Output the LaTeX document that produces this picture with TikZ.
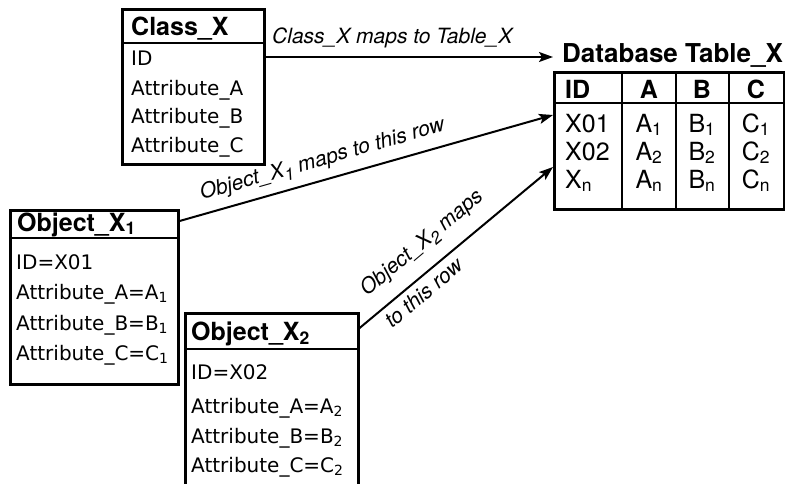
\documentclass[tikz,border=0pt]{standalone}
\usepackage{fontspec}
\setmainfont{TeX Gyre Heros}
\newfontfamily\attrfont{DejaVu Sans}
\usetikzlibrary{arrows.meta}

% lowered index in the arrow labels
\newcommand{\lowsub}[1]{\raisebox{-5pt}{\fontsize{17}{17}\selectfont #1}}

\tikzset{
  box/.style={draw, line width=2.6pt, inner sep=0pt, anchor=north west},
  divider/.style={line width=2.4pt},
  head/.style={font=\fontsize{25}{25}\selectfont\bfseries, anchor=base west, inner sep=0pt},
  attr/.style={font=\attrfont\fontsize{20}{20}\selectfont, anchor=base west, inner sep=0pt},
  cell/.style={font=\fontsize{25}{25}\selectfont, anchor=base, inner sep=0pt},
  maps/.style={-{Stealth[length=14pt,width=10pt,inset=3pt]}, line width=2pt},
  maplabel/.style={font=\fontsize{21}{21}\selectfont\itshape, anchor=base west, inner sep=0pt}
}

\begin{document}
\begin{tikzpicture}[x=1pt,y=-1pt]
\useasboundingbox (0,0) rectangle (785,483);

% the class
\node[box, minimum width=142pt, minimum height=155pt] (classx) at (121,8) {};
\draw[divider] (classx.west |- 0,43) -- (classx.east |- 0,43);
\node[head] (classname) at (131,35) {Class\_X};
\node[attr] (cid) at (131,65) {ID};
\node[attr] (ca) at (131,95) {Attribute\_A};
\node[attr] (cb) at (131,123) {Attribute\_B};
\node[attr] (cc) at (131,152) {Attribute\_C};

% the table
\node[head, font=\fontsize{26}{26}\selectfont\bfseries] (dbtitle) at (562,62) {Database Table\_X};
\node[box, minimum width=230pt, minimum height=137pt] (dbtable) at (553,71) {};
\draw[divider] (dbtable.west |- 0,103) -- (dbtable.east |- 0,103);
\draw[divider] (dbtable.north -| 622,0) -- (dbtable.south -| 622,0);
\draw[divider] (dbtable.north -| 676,0) -- (dbtable.south -| 676,0);
\draw[divider] (dbtable.north -| 729,0) -- (dbtable.south -| 729,0);
\node[cell, anchor=base west] (hid) at (565,98) {\bfseries ID};
\node[cell] (ha) at (649,98) {\bfseries A};
\node[cell] (hb) at (702,98) {\bfseries B};
\node[cell] (hc) at (756,98) {\bfseries C};
\node[cell, anchor=base west] (rowone) at (565,132) {X01};
\node[cell] (aone) at (649,132) {A\textsubscript{1}};
\node[cell] (bone) at (702,132) {B\textsubscript{1}};
\node[cell] (cone) at (756,132) {C\textsubscript{1}};
\node[cell, anchor=base west] (rowtwo) at (565,160) {X02};
\node[cell] (atwo) at (649,160) {A\textsubscript{2}};
\node[cell] (btwo) at (702,160) {B\textsubscript{2}};
\node[cell] (ctwo) at (756,160) {C\textsubscript{2}};
\node[cell, anchor=base west] (rown) at (565,188) {X\textsubscript{n}};
\node[cell] (an) at (649,188) {A\textsubscript{n}};
\node[cell] (bn) at (702,188) {B\textsubscript{n}};
\node[cell] (cn) at (756,188) {C\textsubscript{n}};

% first object
\node[box, minimum width=168pt, minimum height=174pt] (objone) at (9,209) {};
\draw[divider] (objone.west |- 0,238) -- (objone.east |- 0,238);
\node[head] (objonename) at (17,231) {Object\_X\textsubscript{1}};
\node[attr] (oid) at (16,269) {ID=X01};
\node[attr] (oa) at (16,299) {Attribute\_A=A\textsubscript{1}};
\node[attr] (ob) at (16,330) {Attribute\_B=B\textsubscript{1}};
\node[attr] (oc) at (16,360) {Attribute\_C=C\textsubscript{1}};

% second object, runs off the bottom
\node[box, minimum width=173pt, minimum height=200pt] (objtwo) at (184,312) {};
\draw[divider] (objtwo.west |- 0,349) -- (objtwo.east |- 0,349);
\node[head] (objtwoname) at (191,340) {Object\_X\textsubscript{2}};
\node[attr] (tid) at (191,379) {ID=X02};
\node[attr] (ta) at (191,413) {Attribute\_A=A\textsubscript{2}};
\node[attr] (tb) at (191,443) {Attribute\_B=B\textsubscript{2}};
\node[attr] (tc) at (191,472) {Attribute\_C=C\textsubscript{2}};

% mappings
\draw[maps] (classx.east |- 0,57) -- (dbtable.west |- 0,57);
\node[maplabel] (classmap) at (272,43) {Class\_X maps to Table\_X};
\draw[maps] (objone.east |- 0,221) -- (dbtable.west |- 0,115);
\node[maplabel, rotate=15.9] (onemap) at (202,200) {Object\_X\lowsub{1} maps to this row};
\draw[maps] (objtwo.east |- 0,328) -- (dbtable.west |- 0,167);
\node[maplabel, rotate=40.1] (twomap) at (367,297) {Object\_X\lowsub{2} maps};
\node[maplabel, rotate=40.1] (twomaprow) at (392,329) {to this row};
\end{tikzpicture}
\end{document}
